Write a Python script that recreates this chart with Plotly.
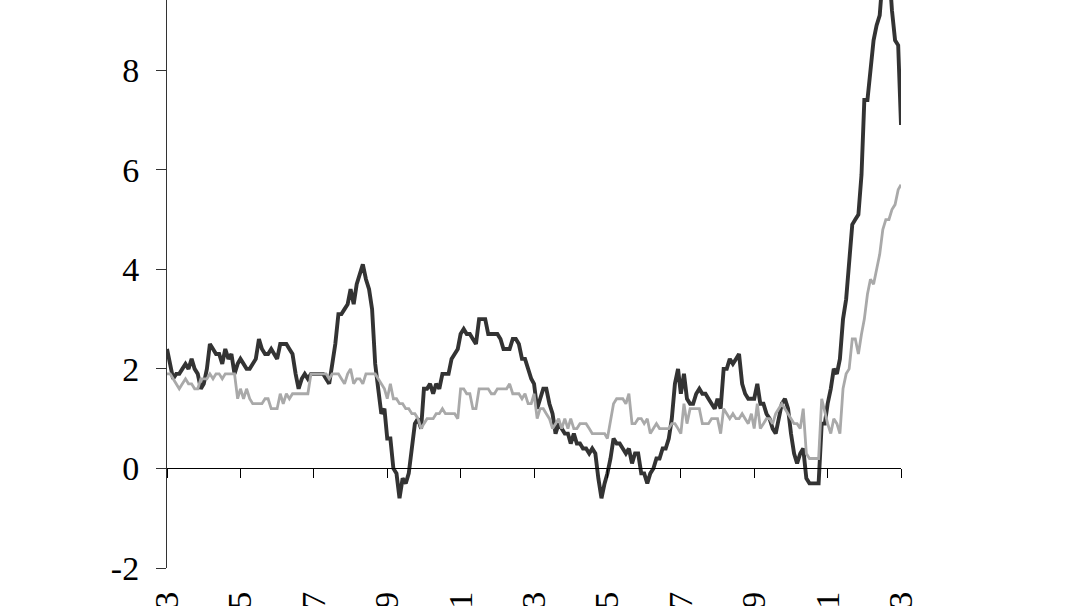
import pandas as pd
import plotly.graph_objects as go

# Monthly observations, March 2003 to March 2023
start_month = "2003-03-01"

headline = [
    2.4, 2.1, 1.8, 1.9, 1.9, 2.0, 2.1, 2.0, 2.2, 2.0, 1.9, 1.6,
    1.7, 2.0, 2.5, 2.4, 2.3, 2.3, 2.1, 2.4, 2.2, 2.3, 1.9, 2.1,
    2.2, 2.1, 2.0, 2.0, 2.1, 2.2, 2.6, 2.4, 2.3, 2.3, 2.4, 2.3,
    2.2, 2.5, 2.5, 2.5, 2.4, 2.3, 1.9, 1.6, 1.8, 1.9, 1.8, 1.9,
    1.9, 1.9, 1.9, 1.9, 1.8, 1.7, 2.1, 2.5, 3.1, 3.1, 3.2, 3.3,
    3.6, 3.3, 3.7, 3.9, 4.1, 3.8, 3.6, 3.2, 2.1, 1.6, 1.1, 1.2,
    0.6, 0.6, 0.0, -0.1, -0.6, -0.2, -0.3, -0.1, 0.5, 0.9, 1.0, 0.8,
    1.6, 1.6, 1.7, 1.5, 1.7, 1.6, 1.9, 1.9, 1.9, 2.2, 2.3, 2.4,
    2.7, 2.8, 2.7, 2.7, 2.6, 2.5, 3.0, 3.0, 3.0, 2.7, 2.7, 2.7,
    2.7, 2.6, 2.4, 2.4, 2.4, 2.6, 2.6, 2.5, 2.2, 2.2, 2.0, 1.8,
    1.7, 1.2, 1.4, 1.6, 1.6, 1.3, 1.1, 0.7, 0.9, 0.8, 0.7, 0.7,
    0.5, 0.7, 0.5, 0.5, 0.4, 0.4, 0.3, 0.4, 0.3, -0.2, -0.6, -0.3,
    -0.1, 0.2, 0.6, 0.5, 0.5, 0.4, 0.3, 0.4, 0.1, 0.3, 0.3, -0.1,
    -0.1, -0.3, -0.1, 0.0, 0.2, 0.2, 0.4, 0.4, 0.6, 1.0, 1.7, 2.0,
    1.5, 1.9, 1.4, 1.3, 1.3, 1.5, 1.6, 1.5, 1.5, 1.4, 1.3, 1.2,
    1.4, 1.2, 2.0, 2.0, 2.2, 2.1, 2.2, 2.3, 1.7, 1.5, 1.4, 1.4,
    1.4, 1.7, 1.3, 1.3, 1.1, 1.0, 0.8, 0.7, 1.0, 1.3, 1.4, 1.2,
    0.7, 0.3, 0.1, 0.3, 0.4, -0.2, -0.3, -0.3, -0.3, -0.3, 0.9, 0.9,
    1.3, 1.6, 2.0, 1.9, 2.2, 3.0, 3.4, 4.1, 4.9, 5.0, 5.1, 5.9,
    7.4, 7.4, 8.1, 8.6, 8.9, 9.1, 9.9, 10.6, 10.1, 9.2, 8.6, 8.5,
    6.9,
]

core = [
    1.9, 1.9, 1.8, 1.7, 1.6, 1.7, 1.8, 1.7, 1.7, 1.6, 1.6, 1.8,
    1.8, 1.8, 1.9, 1.8, 1.9, 1.9, 1.8, 1.9, 1.9, 1.9, 1.9, 1.4,
    1.6, 1.4, 1.6, 1.4, 1.3, 1.3, 1.3, 1.3, 1.4, 1.4, 1.2, 1.2,
    1.2, 1.5, 1.3, 1.5, 1.4, 1.5, 1.5, 1.5, 1.5, 1.5, 1.5, 1.9,
    1.9, 1.9, 1.9, 1.9, 1.9, 1.8, 1.9, 1.9, 1.9, 1.8, 1.7, 1.9,
    2.0, 1.7, 1.8, 1.8, 1.7, 1.9, 1.9, 1.9, 1.9, 1.8, 1.7, 1.6,
    1.4, 1.7, 1.4, 1.4, 1.3, 1.3, 1.2, 1.2, 1.1, 1.1, 1.0, 0.8,
    0.9, 1.0, 1.0, 1.0, 1.1, 1.1, 1.2, 1.1, 1.1, 1.1, 1.1, 1.0,
    1.6, 1.6, 1.5, 1.5, 1.2, 1.2, 1.6, 1.6, 1.6, 1.6, 1.5, 1.5,
    1.6, 1.6, 1.6, 1.6, 1.7, 1.5, 1.5, 1.5, 1.4, 1.5, 1.3, 1.3,
    1.5, 1.0, 1.2, 1.2, 1.1, 1.0, 0.8, 0.9, 1.0, 0.8, 1.0, 0.8,
    1.0, 0.8, 0.8, 0.9, 0.9, 0.9, 0.8, 0.7, 0.7, 0.7, 0.7, 0.7,
    0.6, 1.0, 1.3, 1.4, 1.4, 1.4, 1.3, 1.5, 0.9, 0.9, 1.0, 1.0,
    0.9, 1.0, 0.7, 0.8, 0.9, 0.8, 0.8, 0.8, 0.8, 0.9, 0.9, 0.8,
    0.7, 1.3, 0.9, 1.2, 1.2, 1.2, 1.2, 0.9, 0.9, 0.9, 1.0, 1.0,
    1.0, 0.7, 1.2, 1.1, 1.0, 1.1, 1.0, 1.0, 1.1, 1.0, 0.9, 1.1,
    0.8, 1.3, 0.8, 0.9, 1.0, 1.0, 0.9, 1.1, 1.2, 1.3, 1.2, 1.1,
    1.0, 0.9, 0.9, 0.8, 1.2, 0.3, 0.2, 0.2, 0.2, 0.2, 1.4, 1.1,
    0.9, 0.7, 1.0, 0.9, 0.7, 1.6, 1.9, 2.0, 2.6, 2.6, 2.3, 2.7,
    3.0, 3.5, 3.8, 3.7, 4.0, 4.3, 4.8, 5.0, 5.0, 5.2, 5.3, 5.6,
    5.7,
]

tick_labels = ["2003", "2005", "2007", "2009", "2011", "2013",
               "2015", "2017", "2019", "2021", "2023"]
y_ticks = [-2, 0, 2, 4, 6, 8]

dates = pd.date_range(start_month, periods=len(headline), freq="MS")
tick_dates = list(dates[::24])

y_min, y_max = -2, 9.41
zero_pos = (0 - y_min) / (y_max - y_min)

font_family = "Liberation Serif, Times New Roman, serif"
font_size = 34

fig = go.Figure()
fig.add_trace(go.Scatter(x=dates, y=headline, mode="lines",
                         line=dict(color="#333333", width=3.9),
                         showlegend=False, hoverinfo="skip"))
fig.add_trace(go.Scatter(x=dates, y=core, mode="lines",
                         line=dict(color="#a9a9a9", width=2.8),
                         showlegend=False, hoverinfo="skip"))
# invisible trace carrying the label axis
fig.add_trace(go.Scatter(x=[dates[0], dates[-1]], y=[None, None], xaxis="x2",
                         mode="lines", showlegend=False, hoverinfo="skip"))

x_range = [dates[0], dates[-1]]

fig.update_layout(
    width=1078, height=606,
    margin=dict(l=167, r=177, t=0, b=38, autoexpand=False),
    paper_bgcolor="white", plot_bgcolor="white",
    font=dict(family=font_family, size=font_size, color="black"),
    hovermode=False,
    xaxis=dict(
        type="date", range=x_range, anchor="free", position=zero_pos,
        automargin=False,
        showgrid=False, zeroline=False,
        showline=True, linecolor="black", linewidth=1,
        ticks="outside", ticklen=9, tickwidth=1, tickcolor="black",
        tickvals=tick_dates, showticklabels=False,
    ),
    xaxis2=dict(
        type="date", range=x_range, overlaying="x", anchor="y", side="bottom",
        automargin=False,
        showgrid=False, zeroline=False, showline=False, ticks="",
        tickvals=tick_dates, ticktext=tick_labels, tickangle=-90,
        ticklabelstandoff=16,
        tickfont=dict(family=font_family, size=font_size, color="black"),
    ),
    yaxis=dict(
        range=[y_min, y_max], showgrid=False, zeroline=False,
        automargin=False,
        showline=True, linecolor="#333333", linewidth=1,
        ticks="outside", ticklen=10, tickwidth=1, tickcolor="#333333",
        tickvals=y_ticks, ticktext=[str(v) for v in y_ticks],
        ticklabelstandoff=10,
        tickfont=dict(family=font_family, size=font_size, color="black"),
    ),
)

fig.write_html(
    "out.html",
    config={"displayModeBar": False, "staticPlot": True},
    post_script="document.body.style.margin='0';document.body.style.overflow='hidden';",
)
